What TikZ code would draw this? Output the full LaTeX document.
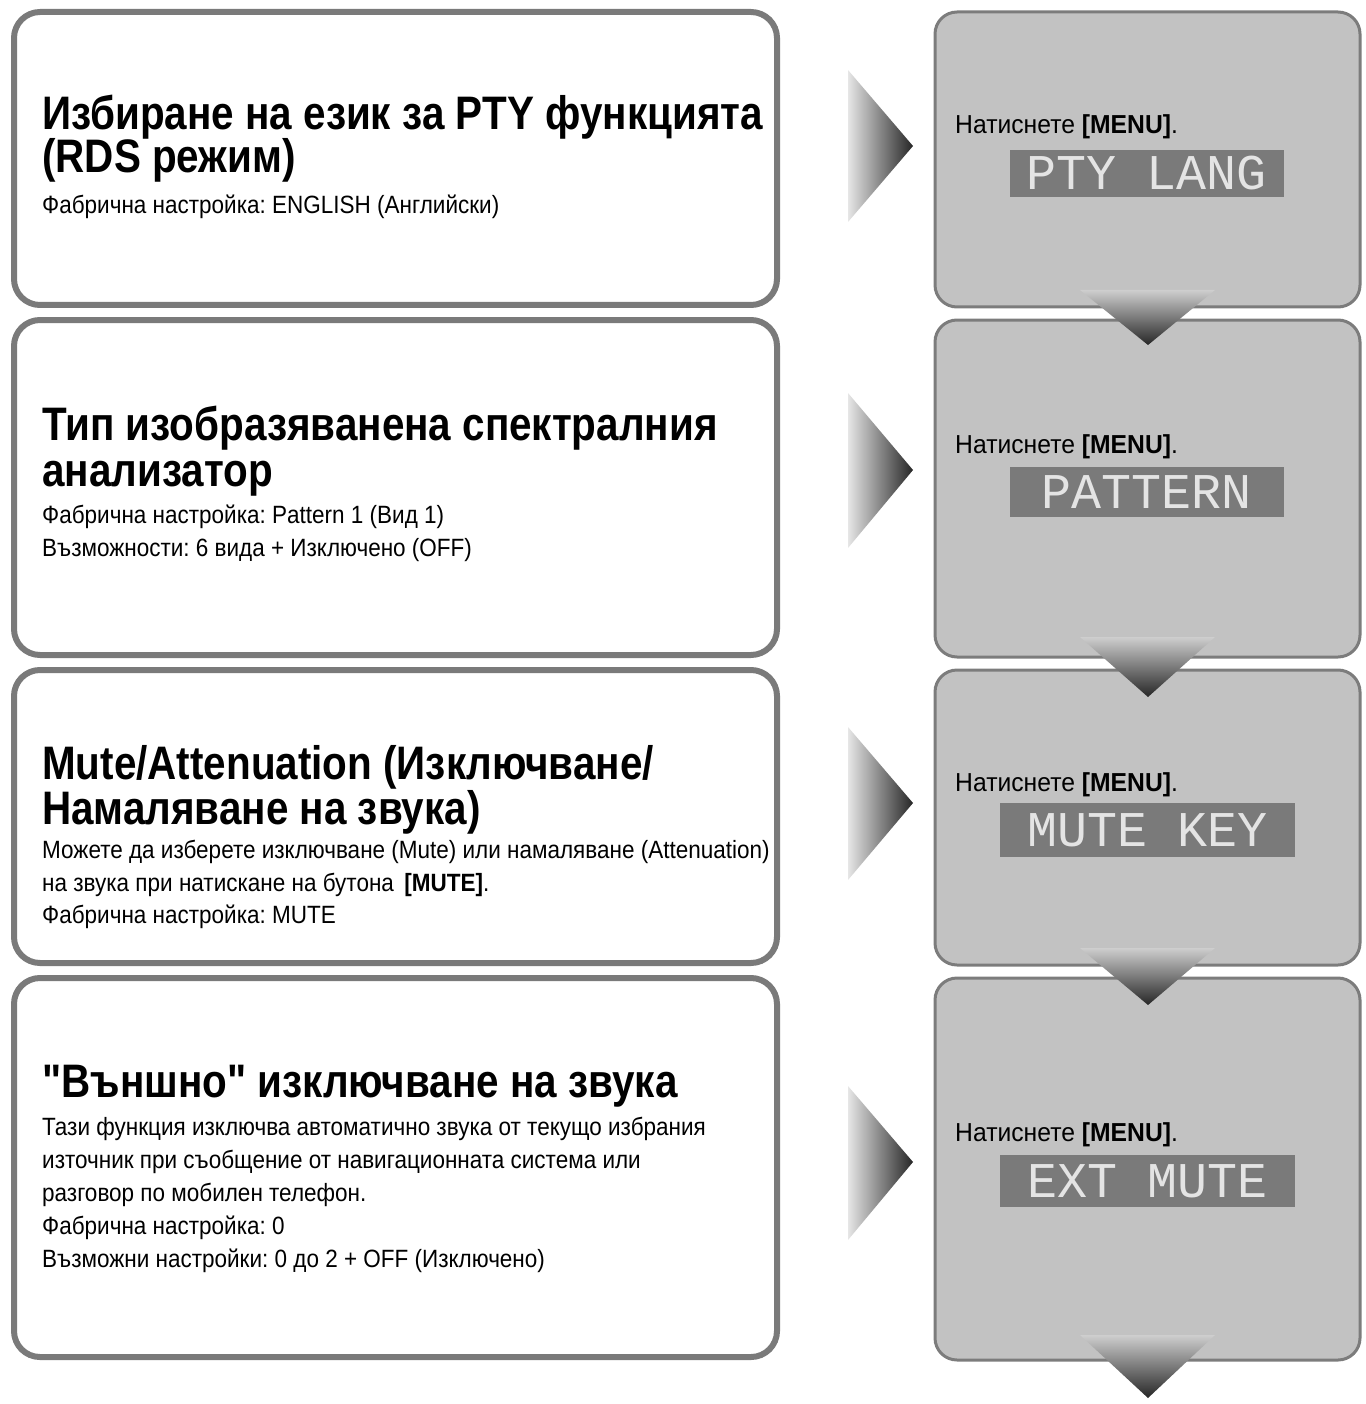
\documentclass[tikz,border=0pt]{standalone}
\usepackage{fontspec}
\setmainfont[FakeStretch=0.86,Ligatures=TeXOff]{Liberation Sans}
\newfontfamily\bodyfont[FakeStretch=0.9]{Liberation Sans}
\newfontfamily\pressfont[FakeStretch=0.95]{Liberation Sans}
\newfontfamily\lcdfont{Liberation Mono}
\definecolor{lborder}{HTML}{7A7A7A}
\definecolor{rfill}{HTML}{C2C2C2}
\definecolor{rborder}{HTML}{7C7C7C}
\definecolor{lcdbg}{HTML}{7A7A7A}
\definecolor{lcdtxt}{HTML}{E4E4E4}
\tikzset{
 lbox/.style={draw=lborder, line width=6pt, rounded corners=26pt, fill=white},
 rbox/.style={draw=rborder, line width=3pt, rounded corners=22pt, fill=rfill},
 ttl/.style={anchor=base west, inner sep=0pt, font=\fontsize{47}{47}\selectfont\bfseries},
 txt/.style={anchor=base west, inner sep=0pt, font=\bodyfont\fontsize{25}{25}\selectfont},
 press/.style={anchor=base west, inner sep=0pt, font=\pressfont\fontsize{26}{26}\selectfont},
 lcd/.style={fill=lcdbg, inner sep=0pt, font=\lcdfont\fontsize{50}{50}\selectfont, text=lcdtxt},
 rtri/.style={left color=gray!20, right color=black!85},
 dtri/.style={top color=rfill!80!white, bottom color=black!85},
}
\frenchspacing
\begin{document}
\begin{tikzpicture}[x=1pt,y=-1pt]
\useasboundingbox (0,0) rectangle (1365,1404);
% left boxes
\draw[lbox] (14,12) rectangle (777,305);
\draw[lbox] (14,320) rectangle (777,655);
\draw[lbox] (14,670) rectangle (777,963);
\draw[lbox] (14,978) rectangle (777,1357);
% right boxes
\draw[rbox] (935,12) rectangle (1360,307);
\draw[rbox] (935,320) rectangle (1360,657);
\draw[rbox] (935,670) rectangle (1360,965);
\draw[rbox] (935,978) rectangle (1360,1360);
% right-pointing triangles
\shade[rtri] (848,70) -- (913,146) -- (848,222) -- cycle;
\shade[rtri] (848,393) -- (913,470) -- (848,548) -- cycle;
\shade[rtri] (848,727) -- (913,803) -- (848,880) -- cycle;
\shade[rtri] (848,1086) -- (913,1162) -- (848,1240) -- cycle;
% down-pointing triangles
\shade[dtri] (1080,290) -- (1215,290) -- (1148,345) -- cycle;
\shade[dtri] (1080,637) -- (1215,637) -- (1148,697) -- cycle;
\shade[dtri] (1080,948) -- (1215,948) -- (1148,1005) -- cycle;
\shade[dtri] (1080,1335) -- (1215,1335) -- (1148,1398) -- cycle;
% box 1 text
\node[ttl] (t1a) at (42,130) {Избиране на език за PTY функцията};
\node[ttl] (t1b) at (42,173) {(RDS режим)};
\node[txt] (s1a) at (42,214) {Фабрична настройка: ENGLISH (Английски)};
% box 2 text
\node[ttl] (t2a) at (42,440) {Тип изобразяванена спектралния};
\node[ttl] (t2b) at (42,486) {анализатор};
\node[txt] (s2a) at (42,523) {Фабрична настройка: Pattern 1 (Вид 1)};
\node[txt] (s2b) at (42,556) {Възможности: 6 вида + Изключено (OFF)};
% box 3 text
\node[ttl] (t3a) at (42,779) {Mute/Attenuation (Изключване/};
\node[ttl] (t3b) at (42,824) {Намаляване на звука)};
\node[txt] (s3a) at (42,858) {Можете да изберете изключване (Mute) или намаляване (Attenuation)};
\node[txt] (s3b) at (42,891) {на звука при натискане на бутона \,\textbf{[MUTE]}.};
\node[txt] (s3c) at (42,923) {Фабрична настройка: MUTE};
% box 4 text
\node[ttl] (t4a) at (42,1097) {"Външно" изключване на звука};
\node[txt] (s4a) at (42,1135) {Тази функция изключва автоматично звука от текущо избрания};
\node[txt] (s4b) at (42,1168) {източник при съобщение от навигационната система или};
\node[txt] (s4c) at (42,1201) {разговор по мобилен телефон.};
\node[txt] (s4d) at (42,1234) {Фабрична настройка: 0};
\node[txt] (s4e) at (42,1267) {Възможни настройки: 0 до 2 + OFF (Изключено)};
% right texts
\node[press] (p1) at (955,134) {Натиснете \textbf{[MENU]}.};
\node[press] (p2) at (955,453) {Натиснете \textbf{[MENU]}.};
\node[press] (p3) at (955,791) {Натиснете \textbf{[MENU]}.};
\node[press] (p4) at (955,1141) {Натиснете \textbf{[MENU]}.};
% LCDs
\node[lcd, minimum width=274pt, minimum height=47pt] (l1) at (1147,173.5) {PTY LANG};
\node[lcd, minimum width=274pt, minimum height=50pt] (l2) at (1147,492) {PATTERN};
\node[lcd, minimum width=295pt, minimum height=54pt] (l3) at (1147.5,830) {MUTE KEY};
\node[lcd, minimum width=295pt, minimum height=52pt] (l4) at (1147.5,1181) {EXT MUTE};
\end{tikzpicture}
\end{document}
